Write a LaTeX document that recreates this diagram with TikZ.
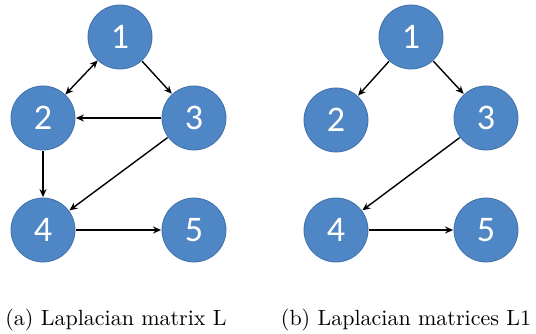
\documentclass[tikz,border=0pt]{standalone}
\usepackage{fontspec}
\newfontfamily\numfont{Carlito}
\newfontfamily\capfont{lmroman10-regular.otf}
\usetikzlibrary{arrows.meta}
\definecolor{nodeblue}{RGB}{79,134,198}
\definecolor{nodeedge}{RGB}{65,113,170}
\tikzset{
  vert/.style={circle, fill=nodeblue, draw=nodeedge, line width=0.8pt, minimum size=64pt, inner sep=0pt, text=white, font=\numfont\fontsize{36}{36}\selectfont},
  edge/.style={-{Stealth[length=8pt,width=7pt]}, line width=1.4pt, black, shorten >=0.5pt, shorten <=0.5pt},
  bedge/.style={{Stealth[length=8pt,width=7pt]}-{Stealth[length=8pt,width=7pt]}, line width=1.4pt, black},
  captext/.style={font=\capfont\fontsize{22}{26}\selectfont, anchor=base, inner sep=0pt}
}
\begin{document}
\begin{tikzpicture}[x=1pt,y=-1pt]
\useasboundingbox (0,0) rectangle (536,334);
% (a)
\node[vert] (a1) at (120,37) {1};
\node[vert] (a2) at (43,118) {2};
\node[vert] (a3) at (194,118) {3};
\node[vert] (a4) at (43,230) {4};
\node[vert] (a5) at (194,230) {5};
\draw[bedge] (a1) -- (a2);
\draw[edge] (a1) -- (a3);
\draw[edge] (a3) -- (a2);
\draw[edge] (a3) -- (a4);
\draw[edge] (a2) -- (a4);
\draw[edge] (a4) -- (a5);
% (b)
\node[vert] (b1) at (411,37) {1};
\node[vert] (b2) at (336,120) {2};
\node[vert] (b3) at (486,118) {3};
\node[vert] (b4) at (336,230) {4};
\node[vert] (b5) at (486,230) {5};
\draw[edge] (b1) -- (b2);
\draw[edge] (b1) -- (b3);
\draw[edge] (b3) -- (b4);
\draw[edge] (b4) -- (b5);
% captions
\node[captext] (capa) at (116,325) {(a) Laplacian matrix L};
\node[captext] (capb) at (406,325) {(b) Laplacian matrices L1};
\end{tikzpicture}
\end{document}
